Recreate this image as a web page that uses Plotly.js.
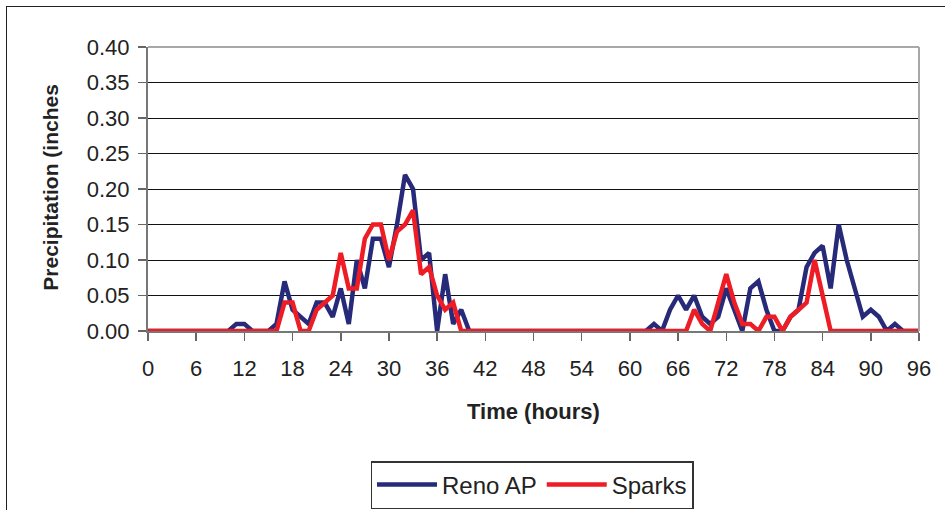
<!DOCTYPE html>
<html>
<head>
<meta charset="utf-8">
<script src="https://cdn.plot.ly/plotly-3.0.1.min.js"></script>
<style>
  html, body { margin: 0; padding: 0; background: #fff; }
  #wrap { position: relative; width: 945px; height: 510px; overflow: hidden; }
  #chart { width: 945px; height: 510px; }
  #frame { position: absolute; left: 6px; top: 6px; width: 960px; height: 520px;
           border-left: 1.5px solid #222; border-top: 1.5px solid #222; pointer-events: none; }
</style>
</head>
<body>
<div id="wrap">
  <div id="chart"></div>
  <div id="frame"></div>
</div>
<script>
// Hours 0..96
const hours = Array.from({length: 97}, (_, i) => i);

// Reno AP hourly precipitation (inches), hours 0..96
const renoAP = [
  0, 0, 0, 0, 0, 0, 0, 0, 0, 0,          // 0-9
  0, 0.01, 0.01, 0, 0, 0, 0.01, 0.07, 0.03, 0.02, // 10-19
  0.01, 0.04, 0.04, 0.02, 0.06, 0.01, 0.10, 0.06, 0.13, 0.13, // 20-29
  0.09, 0.15, 0.22, 0.20, 0.10, 0.11, 0.00, 0.08, 0.01, 0.03, // 30-39
  0, 0, 0, 0, 0, 0, 0, 0, 0, 0,          // 40-49
  0, 0, 0, 0, 0, 0, 0, 0, 0, 0,          // 50-59
  0, 0, 0, 0.01, 0, 0.03, 0.05, 0.03, 0.05, 0.02, // 60-69
  0.01, 0.02, 0.06, 0.03, 0, 0.06, 0.07, 0.03, 0, 0, // 70-79
  0.02, 0.03, 0.09, 0.11, 0.12, 0.06, 0.15, 0.10, 0.06, 0.02, // 80-89
  0.03, 0.02, 0, 0.01, 0, 0, 0           // 90-96
];

// Sparks hourly precipitation (inches), hours 0..96
const sparks = [
  0, 0, 0, 0, 0, 0, 0, 0, 0, 0,          // 0-9
  0, 0, 0, 0, 0, 0, 0, 0.04, 0.04, 0,    // 10-19
  0, 0.03, 0.04, 0.05, 0.11, 0.06, 0.06, 0.13, 0.15, 0.15, // 20-29
  0.10, 0.14, 0.15, 0.17, 0.08, 0.09, 0.05, 0.03, 0.04, 0, // 30-39
  0, 0, 0, 0, 0, 0, 0, 0, 0, 0,          // 40-49
  0, 0, 0, 0, 0, 0, 0, 0, 0, 0,          // 50-59
  0, 0, 0, 0, 0, 0, 0, 0, 0.03, 0.01,    // 60-69
  0, 0.04, 0.08, 0.04, 0.01, 0.01, 0, 0.02, 0.02, 0, // 70-79
  0.02, 0.03, 0.04, 0.10, 0.05, 0, 0, 0, 0, 0, // 80-89
  0, 0, 0, 0, 0, 0, 0                    // 90-96
];

const seriesNames = ["Reno AP", "Sparks"];
const xTickVals = [0, 6, 12, 18, 24, 30, 36, 42, 48, 54, 60, 66, 72, 78, 84, 90, 96];
const yTickVals = [0, 0.05, 0.10, 0.15, 0.20, 0.25, 0.30, 0.35, 0.40];
const xTitle = "Time (hours)";
const yTitle = "Precipitation (inches";

const FONT = "Liberation Sans, Arial, Helvetica, sans-serif";

const traces = [
  { x: hours, y: renoAP, name: seriesNames[0], type: "scatter", mode: "lines",
    line: { color: "#262a78", width: 4.5 } },
  { x: hours, y: sparks, name: seriesNames[1], type: "scatter", mode: "lines",
    line: { color: "#ee1c24", width: 4.5 } }
];

const layout = {
  width: 945, height: 510,
  margin: { l: 148, r: 26, t: 47, b: 179, autoexpand: false },
  paper_bgcolor: "#ffffff",
  plot_bgcolor: "#ffffff",
  font: { family: FONT, color: "#222" },
  showlegend: true,
  legend: {
    orientation: "h", xref: "container", yref: "container",
    x: 532 / 945, xanchor: "center", y: 1 - 461 / 510, yanchor: "top",
    bgcolor: "#ffffff", bordercolor: "#333", borderwidth: 1.5,
    font: { family: FONT, size: 24, color: "#222" },
    itemwidth: 60,
    traceorder: "normal"
  },
  xaxis: {
    range: [0, 96], tickmode: "array", tickvals: xTickVals,
    ticks: "outside", ticklen: 8, tickcolor: "#666", tickwidth: 1.5,
    ticklabelstandoff: 9,
    showgrid: false, zeroline: false,
    showline: true, linecolor: "#777", linewidth: 1.5,
    tickfont: { family: FONT, size: 22, color: "#222" },
    fixedrange: true
  },
  yaxis: {
    range: [0, 0.4], tickmode: "array", tickvals: yTickVals, tickformat: ".2f",
    ticks: "outside", ticklen: 8, tickcolor: "#666", tickwidth: 1.5,
    ticklabelstandoff: 4,
    showgrid: true, gridcolor: "#111", gridwidth: 1,
    zeroline: false,
    showline: true, linecolor: "#777", linewidth: 2,
    tickfont: { family: FONT, size: 22, color: "#222" },
    fixedrange: true
  },
  shapes: [
    { type: "line", xref: "paper", yref: "paper", x0: 0, x1: 1, y0: 1, y1: 1,
      line: { color: "#a8a8a8", width: 2 }, layer: "above" },
    { type: "line", xref: "paper", yref: "paper", x0: 1, x1: 1, y0: 0, y1: 1,
      line: { color: "#a8a8a8", width: 2 }, layer: "above" }
  ],
  annotations: [
    { text: "<b>" + xTitle + "</b>", xref: "paper", yref: "paper",
      x: 0.5, y: -0.285, xanchor: "center", yanchor: "middle", showarrow: false,
      font: { family: FONT, size: 22, color: "#222" } },
    { text: "<b>" + yTitle + "</b>", xref: "paper", yref: "paper",
      x: -0.127, y: 0.505, xanchor: "center", yanchor: "middle", showarrow: false,
      textangle: -90,
      font: { family: FONT, size: 21, color: "#222" } }
  ]
};

Plotly.newPlot("chart", traces, layout, { displayModeBar: false, staticPlot: true });
</script>
</body>
</html>
